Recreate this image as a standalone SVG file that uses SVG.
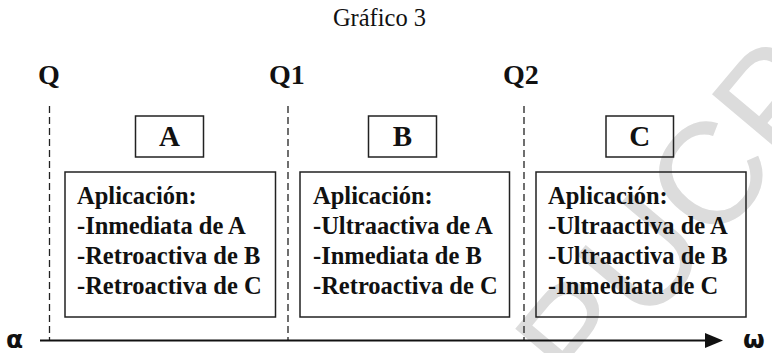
<svg xmlns="http://www.w3.org/2000/svg" width="772" height="353" viewBox="0 0 772 353">
<defs>
<style>
.t{font-family:"Liberation Serif","Times New Roman",serif;font-weight:bold;fill:#111}
.body{font-size:24.5px}
.q{font-size:28px}
.big{font-size:29px;text-anchor:middle}
.greek{font-family:"DejaVu Sans","Liberation Sans",Arial,sans-serif;font-weight:bold;font-size:25px;fill:#111}
.box{fill:none;stroke:#222;stroke-width:1.5}
.dash{fill:none;stroke:#222;stroke-width:1.3;stroke-dasharray:7 4}
.axis{fill:none;stroke:#111;stroke-width:2.2}
</style>
</defs>
<rect width="772" height="353" fill="#ffffff"/>
<text id="watermark" x="0" y="0" transform="translate(584,402) rotate(-50)" font-family="Liberation Sans, Arial, sans-serif" font-size="145" fill="#dcdcdc">PUCP</text>
<text id="title" x="379.5" y="26" text-anchor="middle" font-family="Liberation Serif, Times New Roman, serif" font-size="24.5" fill="#111">Gráfico 3</text>
<g id="connectors">
<line class="dash" x1="49.5" y1="106" x2="49.5" y2="340"/>
<line class="dash" x1="288" y1="106" x2="288" y2="340"/>
<line class="dash" x1="524" y1="106" x2="524" y2="340"/>
<line class="axis" x1="40" y1="340.5" x2="708" y2="340.5"/>
<polygon points="705,333 723,340.5 705,348" fill="#111"/>
</g>
<g id="axis-labels">
<text class="greek" x="6" y="348">α</text>
<text class="greek" x="743" y="348">ω</text>
</g>
<g id="Q"><text class="t q" x="38" y="84">Q</text></g>
<g id="Q1"><text class="t q" x="269" y="84">Q1</text></g>
<g id="Q2"><text class="t q" x="503" y="84">Q2</text></g>
<g id="A">
<rect class="box" x="135.5" y="116" width="68" height="41"/>
<text class="t big" x="169.5" y="146">A</text>
</g>
<g id="B">
<rect class="box" x="368.5" y="116" width="68" height="41"/>
<text class="t big" x="402.5" y="146">B</text>
</g>
<g id="C">
<rect class="box" x="606" y="116" width="67.5" height="41"/>
<text class="t big" x="639.8" y="146">C</text>
</g>
<g id="appA">
<rect class="box" x="65" y="172" width="210.5" height="145"/>
<text class="t body" x="77" y="204">Aplicación:</text>
<text class="t body" x="77" y="234">-Inmediata de A</text>
<text class="t body" x="77" y="264">-Retroactiva de B</text>
<text class="t body" x="77" y="294">-Retroactiva de C</text>
</g>
<g id="appB">
<rect class="box" x="300" y="172" width="209.5" height="145"/>
<text class="t body" x="313" y="204">Aplicación:</text>
<text class="t body" x="313" y="234">-Ultraactiva de A</text>
<text class="t body" x="313" y="264">-Inmediata de B</text>
<text class="t body" x="313" y="294">-Retroactiva de C</text>
</g>
<g id="appC">
<rect class="box" x="536" y="172" width="210" height="145"/>
<text class="t body" x="548" y="204">Aplicación:</text>
<text class="t body" x="548" y="234">-Ultraactiva de A</text>
<text class="t body" x="548" y="264">-Ultraactiva de B</text>
<text class="t body" x="548" y="294">-Inmediata de C</text>
</g>
</svg>
